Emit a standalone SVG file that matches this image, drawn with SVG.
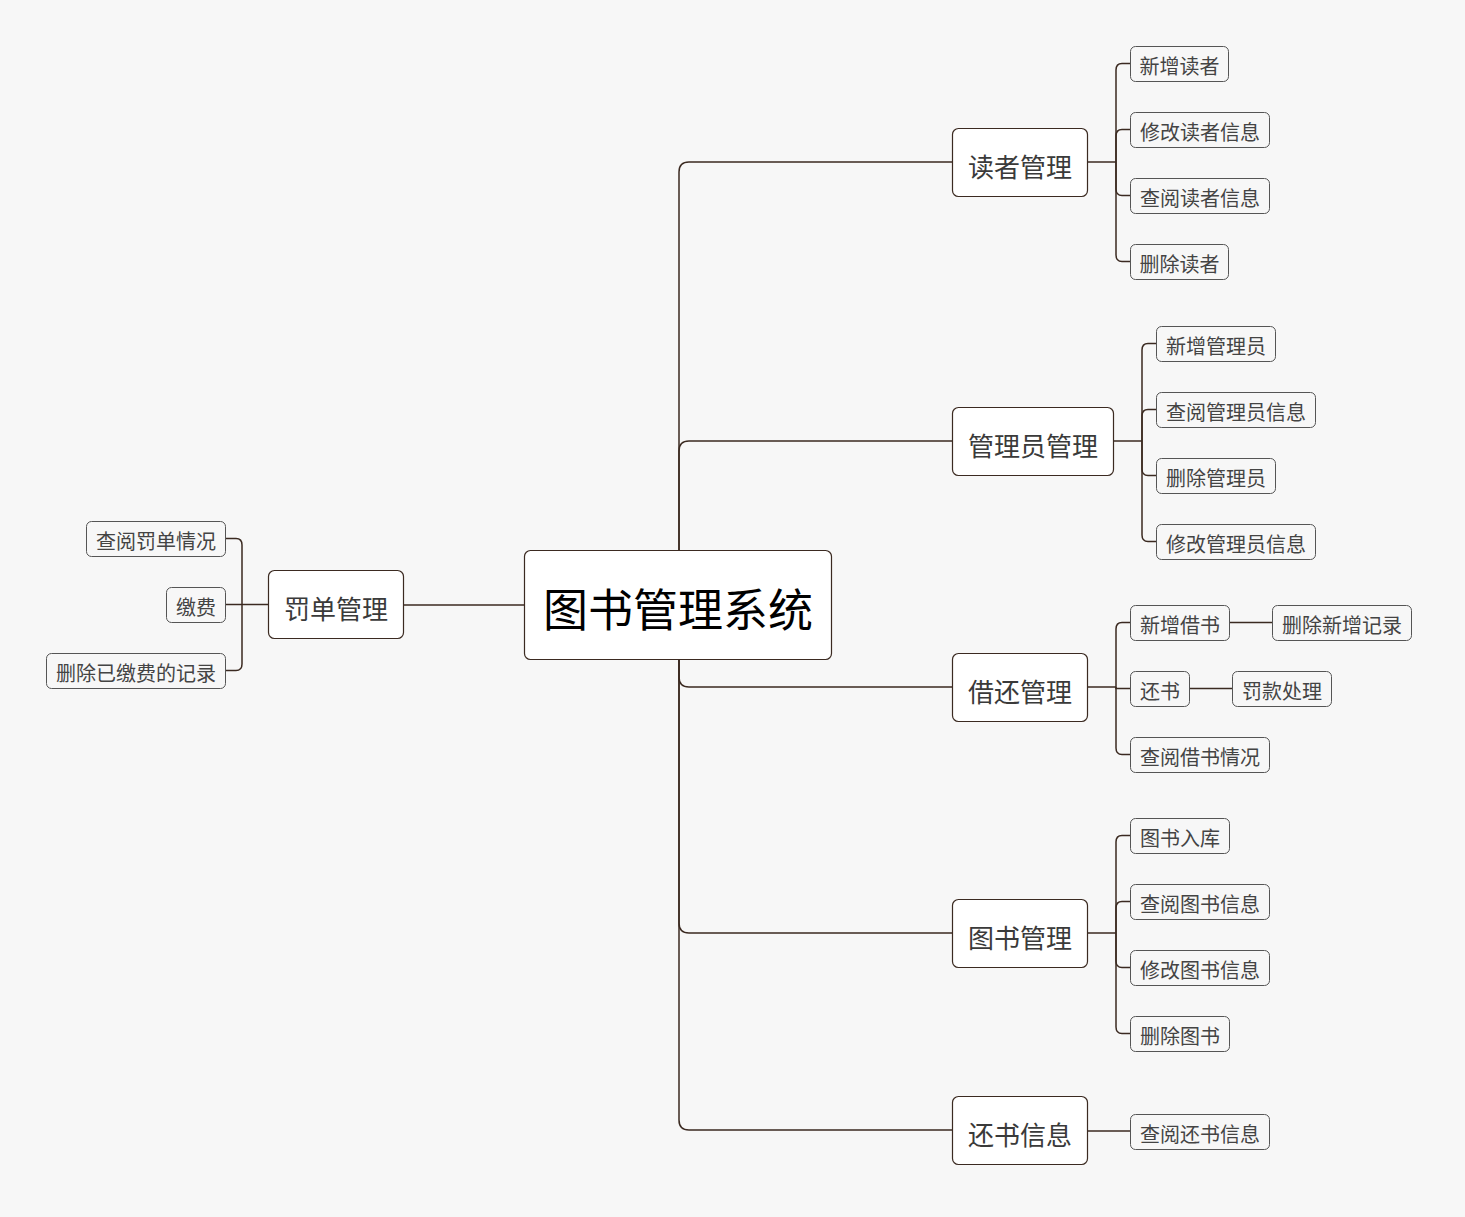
<svg xmlns="http://www.w3.org/2000/svg" width="1465" height="1217" viewBox="0 0 1465 1217">
<style>
.bg{fill:#f7f7f7}
.c{fill:none;stroke:#3b2a21;stroke-width:1.5}
.root rect{fill:#fff;stroke:#3b2a21;stroke-width:1.2}
.root text{font-size:45px;fill:#000}
.br rect{fill:#fff;stroke:#3b2a21;stroke-width:1.2}
.br text{font-size:26px;fill:#3a3a3a}
.lf rect{fill:#f7f7f7;stroke:#555;stroke-width:1}
.lf text{font-size:20px;fill:#444}
text{font-family:"Noto Sans CJK SC","Microsoft YaHei",sans-serif;text-anchor:middle;dominant-baseline:central}
</style>
<rect class="bg" x="0" y="0" width="1465" height="1217"/>
<g id="connectors">
<path class="c" d="M679,550 V172 Q679,162 689,162 H952"/>
<path class="c" d="M679,550 V451 Q679,441 689,441 H952"/>
<path class="c" d="M679,659 V677 Q679,687 689,687 H952"/>
<path class="c" d="M679,659 V923 Q679,933 689,933 H952"/>
<path class="c" d="M679,659 V1120 Q679,1130 689,1130 H952"/>
<path class="c" d="M524,605 H403"/>
<path class="c" d="M1087,162 H1116"/>
<path class="c" d="M1116,162 V70 Q1116,63.5 1122,63.5 H1130"/>
<path class="c" d="M1116,162 V136 Q1116,129.5 1122,129.5 H1130"/>
<path class="c" d="M1116,162 V189 Q1116,195.5 1122,195.5 H1130"/>
<path class="c" d="M1116,162 V255 Q1116,261.5 1122,261.5 H1130"/>
<path class="c" d="M1113,441 H1142"/>
<path class="c" d="M1142,441 V350 Q1142,343.5 1148,343.5 H1156"/>
<path class="c" d="M1142,441 V416 Q1142,409.5 1148,409.5 H1156"/>
<path class="c" d="M1142,441 V469 Q1142,475.5 1148,475.5 H1156"/>
<path class="c" d="M1142,441 V535 Q1142,541.5 1148,541.5 H1156"/>
<path class="c" d="M1087,687 H1116"/>
<path class="c" d="M1116,687 V629 Q1116,622.5 1122,622.5 H1130"/>
<path class="c" d="M1116,687 V688.5 H1130"/>
<path class="c" d="M1116,687 V748 Q1116,754.5 1122,754.5 H1130"/>
<path class="c" d="M1229,622.5 H1272"/>
<path class="c" d="M1189,688.5 H1232"/>
<path class="c" d="M1087,933 H1116"/>
<path class="c" d="M1116,933 V842 Q1116,835.5 1122,835.5 H1130"/>
<path class="c" d="M1116,933 V908 Q1116,901.5 1122,901.5 H1130"/>
<path class="c" d="M1116,933 V961 Q1116,967.5 1122,967.5 H1130"/>
<path class="c" d="M1116,933 V1027 Q1116,1033.5 1122,1033.5 H1130"/>
<path class="c" d="M1087,1131 H1130"/>
<path class="c" d="M268,604.5 H242"/>
<path class="c" d="M242,604.5 V545 Q242,538.5 236,538.5 H225"/>
<path class="c" d="M242,604.5 H225"/>
<path class="c" d="M242,604.5 V664 Q242,670.5 236,670.5 H225"/>
</g>
<g id="root" class="root"><rect x="524.5" y="550.5" width="307" height="109" rx="6"/><text x="678" y="607">图书管理系统</text></g>
<g id="b-reader" class="br"><rect x="952.5" y="128.5" width="135" height="68" rx="6"/><text x="1020" y="165">读者管理</text></g>
<g id="b-admin" class="br"><rect x="952.5" y="407.5" width="161" height="68" rx="6"/><text x="1033" y="444">管理员管理</text></g>
<g id="b-borrow" class="br"><rect x="952.5" y="653.5" width="135" height="68" rx="6"/><text x="1020" y="690">借还管理</text></g>
<g id="b-book" class="br"><rect x="952.5" y="899.5" width="135" height="68" rx="6"/><text x="1020" y="936">图书管理</text></g>
<g id="b-return" class="br"><rect x="952.5" y="1096.5" width="135" height="68" rx="6"/><text x="1020" y="1133">还书信息</text></g>
<g id="b-fine" class="br"><rect x="268.5" y="570.5" width="135" height="68" rx="6"/><text x="336" y="607">罚单管理</text></g>

<g id="l1" class="lf"><rect x="1130.5" y="46.5" width="98" height="35" rx="5"/><text x="1179.5" y="65">新增读者</text></g>
<g id="l2" class="lf"><rect x="1130.5" y="112.5" width="139" height="35" rx="5"/><text x="1200" y="131">修改读者信息</text></g>
<g id="l3" class="lf"><rect x="1130.5" y="178.5" width="139" height="35" rx="5"/><text x="1200" y="197">查阅读者信息</text></g>
<g id="l4" class="lf"><rect x="1130.5" y="244.5" width="98" height="35" rx="5"/><text x="1179.5" y="263">删除读者</text></g>

<g id="l5" class="lf"><rect x="1156.5" y="326.5" width="119" height="35" rx="5"/><text x="1216" y="345">新增管理员</text></g>
<g id="l6" class="lf"><rect x="1156.5" y="392.5" width="159" height="35" rx="5"/><text x="1236" y="411">查阅管理员信息</text></g>
<g id="l7" class="lf"><rect x="1156.5" y="458.5" width="119" height="35" rx="5"/><text x="1216" y="477">删除管理员</text></g>
<g id="l8" class="lf"><rect x="1156.5" y="524.5" width="159" height="35" rx="5"/><text x="1236" y="543">修改管理员信息</text></g>

<g id="l9" class="lf"><rect x="1130.5" y="605.5" width="99" height="35" rx="5"/><text x="1180" y="624">新增借书</text></g>
<g id="l10" class="lf"><rect x="1272.5" y="605.5" width="139" height="35" rx="5"/><text x="1342" y="624">删除新增记录</text></g>
<g id="l11" class="lf"><rect x="1130.5" y="671.5" width="59" height="35" rx="5"/><text x="1160" y="690">还书</text></g>
<g id="l12" class="lf"><rect x="1232.5" y="671.5" width="99" height="35" rx="5"/><text x="1282" y="690">罚款处理</text></g>
<g id="l13" class="lf"><rect x="1130.5" y="737.5" width="139" height="35" rx="5"/><text x="1200" y="756">查阅借书情况</text></g>

<g id="l14" class="lf"><rect x="1130.5" y="818.5" width="99" height="35" rx="5"/><text x="1180" y="837">图书入库</text></g>
<g id="l15" class="lf"><rect x="1130.5" y="884.5" width="139" height="35" rx="5"/><text x="1200" y="903">查阅图书信息</text></g>
<g id="l16" class="lf"><rect x="1130.5" y="950.5" width="139" height="35" rx="5"/><text x="1200" y="969">修改图书信息</text></g>
<g id="l17" class="lf"><rect x="1130.5" y="1016.5" width="99" height="35" rx="5"/><text x="1180" y="1035">删除图书</text></g>

<g id="l18" class="lf"><rect x="1130.5" y="1114.5" width="139" height="35" rx="5"/><text x="1200" y="1133">查阅还书信息</text></g>

<g id="l19" class="lf"><rect x="86.5" y="521.5" width="139" height="35" rx="5"/><text x="156" y="540">查阅罚单情况</text></g>
<g id="l20" class="lf"><rect x="166.5" y="587.5" width="59" height="35" rx="5"/><text x="196" y="606">缴费</text></g>
<g id="l21" class="lf"><rect x="46.5" y="653.5" width="179" height="35" rx="5"/><text x="136" y="672">删除已缴费的记录</text></g>
</svg>
